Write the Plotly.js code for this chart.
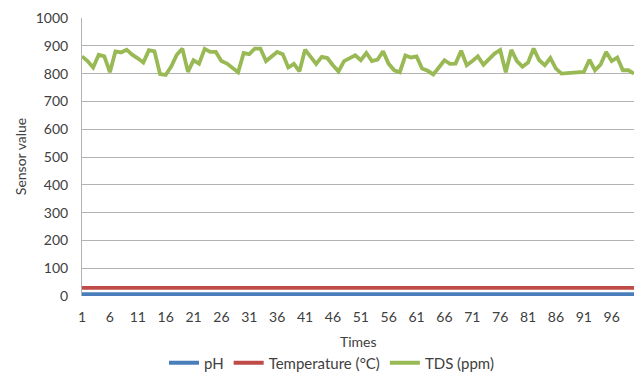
<!DOCTYPE html>
<html>
<head>
<meta charset="utf-8">
<script src="https://cdn.plot.ly/plotly-3.0.1.min.js"></script>
<style>html,body{margin:0;padding:0;background:#fff;}#chart{width:634px;height:373px;}</style>
</head>
<body>
<div id="chart"></div>
<script>
const times = [];
for (let i = 1; i <= 100; i++) times.push(i);

const tickValues = [1, 6, 11, 16, 21, 26, 31, 36, 41, 46, 51, 56, 61, 66, 71, 76, 81, 86, 91, 96];

const phValues = [
  7,7,7,7,7,7,7,7,7,7, 7,7,7,7,7,7,7,7,7,7,
  7,7,7,7,7,7,7,7,7,7, 7,7,7,7,7,7,7,7,7,7,
  7,7,7,7,7,7,7,7,7,7, 7,7,7,7,7,7,7,7,7,7,
  7,7,7,7,7,7,7,7,7,7, 7,7,7,7,7,7,7,7,7,7,
  7,7,7,7,7,7,7,7,7,7, 7,7,7,7,7,7,7,7,7,7
];

const tempValues = [
  29,29,29,29,29,29,29,29,29,29, 29,29,29,29,29,29,29,29,29,29,
  29,29,29,29,29,29,29,29,29,29, 29,29,29,29,29,29,29,29,29,29,
  29,29,29,29,29,29,29,29,29,29, 29,29,29,29,29,29,29,29,29,29,
  29,29,29,29,29,29,29,29,29,29, 29,29,29,29,29,29,29,29,29,29,
  29,29,29,29,29,29,29,29,29,29, 29,29,29,29,29,29,29,29,29,29
];

const tdsValues = [
  862, 845, 822, 868, 862, 805, 880, 876, 886, 868,
  855, 840, 884, 880, 798, 795, 825, 868, 890, 806,
  848, 836, 889, 878, 878, 845, 836, 822, 805, 874,
  870, 890, 890, 845, 862, 878, 870, 822, 835, 808,
  886, 862, 835, 860, 856, 830, 808, 845, 854, 866,
  848, 874, 845, 850, 880, 835, 812, 805, 865, 858,
  862, 818, 810, 797, 822, 848, 835, 836, 882, 830,
  845, 862, 832, 852, 872, 885, 805, 885, 845, 825,
  840, 890, 848, 830, 856, 818, 800, 802, 804, 806,
  806, 850, 812, 832, 878, 845, 858, 812, 812, 800
];

const seriesNames = ["pH", "Temperature (°C)", "TDS (ppm)"];
const seriesColors = ["#4A7EBB", "#BE4B48", "#98B954"];
const xTitle = "Times";
const yTitle = "Sensor value";

const font = "Lato, 'Open Sans', sans-serif";
const txt = "#404040";

const traces = [phValues, tempValues, tdsValues].map((vals, k) => ({
  x: times,
  y: vals,
  type: "scatter",
  mode: "lines",
  name: seriesNames[k],
  line: {color: seriesColors[k], width: 3.8},
  hoverinfo: "skip"
}));

const layout = {
  width: 634,
  height: 373,
  margin: {l: 82, r: 0, t: 18, b: 77, autoexpand: false},
  paper_bgcolor: "#ffffff",
  plot_bgcolor: "#ffffff",
  font: {family: font, size: 14, color: txt},
  showlegend: true,
  legend: {
    orientation: "h",
    x: 0.452, xanchor: "center",
    y: -0.241, yanchor: "middle",
    font: {family: font, size: 15, color: txt},
    traceorder: "normal"
  },
  xaxis: {
    range: [1, 100],
    tickmode: "array",
    tickvals: tickValues,
    ticktext: tickValues.map(String),
    showgrid: false,
    zeroline: false,
    showline: false,
    ticks: "outside",
    ticklen: 8,
    tickcolor: "rgba(0,0,0,0)",
    tickfont: {family: font, size: 14, color: txt}
  },
  yaxis: {
    range: [0, 1000],
    dtick: 100,
    showgrid: true,
    gridcolor: "#B3B3B3",
    gridwidth: 1,
    zeroline: false,
    showline: true,
    linecolor: "#B3B3B3",
    linewidth: 1,
    ticks: "outside",
    ticklen: 10,
    tickcolor: "rgba(0,0,0,0)",
    tickfont: {family: font, size: 14, color: txt}
  },
  annotations: [
    {text: xTitle, xref: "paper", yref: "paper", x: 0.5, y: -0.163, xanchor: "center", yanchor: "middle",
     showarrow: false, font: {family: font, size: 14, color: txt}},
    {text: yTitle, xref: "paper", yref: "paper", x: -0.112, y: 0.5, xanchor: "center", yanchor: "middle",
     textangle: -90, showarrow: false, font: {family: font, size: 14, color: txt}}
  ]
};

Plotly.newPlot("chart", traces, layout, {displayModeBar: false, staticPlot: true});
</script>
</body>
</html>
